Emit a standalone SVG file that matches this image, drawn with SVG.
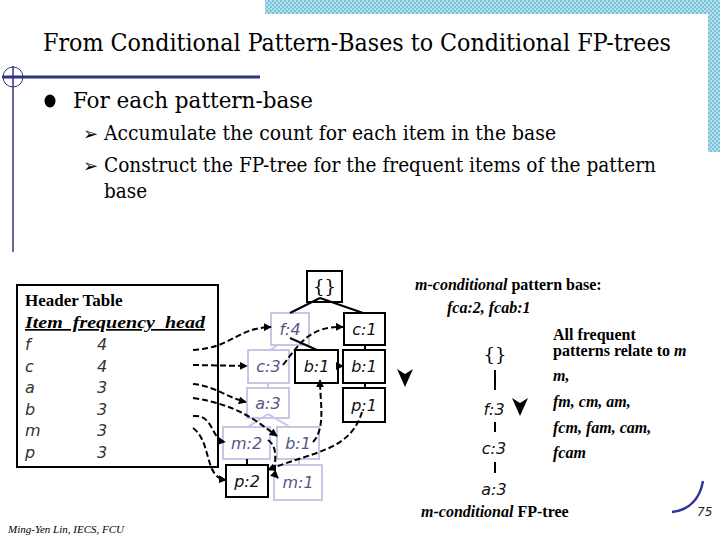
<svg xmlns="http://www.w3.org/2000/svg" width="720" height="540" viewBox="0 0 720 540">
<defs>
<pattern id="hatch" width="4" height="4" patternUnits="userSpaceOnUse">
<rect width="4" height="4" fill="#b4e0ee"/>
<rect width="2" height="2" fill="#7cc3da"/>
<rect x="2" y="2" width="2" height="2" fill="#7cc3da"/>
</pattern>
<marker id="ah" viewBox="0 0 10 10" refX="9" refY="5" markerWidth="8" markerHeight="8" markerUnits="userSpaceOnUse" orient="auto">
<path d="M0,0 L10,5 L0,10 z" fill="#000"/>
</marker>
</defs>
<style>
text.serif{font-family:"Liberation Serif",serif;fill:#000}
text.rs{font-family:"DejaVu Serif Condensed","DejaVu Serif",serif;fill:#000}
.bold{font-weight:bold}
.it{font-style:italic}
.item{font-family:"DejaVu Sans","Liberation Sans",sans-serif;font-style:italic;font-size:16px;fill:#333;font-weight:200}
.nb{fill:#fff;stroke:#000;stroke-width:2}
.ng{fill:#fff;stroke:#c6c6e6;stroke-width:2}
.tb{font-family:"DejaVu Sans","Liberation Sans",sans-serif;font-style:italic;font-size:16px;fill:#111;text-anchor:middle;font-weight:200}
.tg{font-family:"DejaVu Sans","Liberation Sans",sans-serif;font-style:italic;font-size:16px;fill:#55558a;text-anchor:middle;font-weight:200}
.br{font-family:"DejaVu Serif",serif;font-size:18px;fill:#000;text-anchor:middle}
.edge{stroke:#000;stroke-width:2;fill:none}
.edgeg{stroke:#c6c6e6;stroke-width:2;fill:none}
.dash{stroke:#000;stroke-width:2;fill:none;stroke-dasharray:6 3;marker-end:url(#ah)}
.navy{stroke:#333380;fill:none}
</style>
<rect width="720" height="540" fill="#fff"/>
<!-- background decoration -->
<rect x="265" y="0" width="455" height="14" fill="url(#hatch)"/>
<rect x="708" y="0" width="12" height="152" fill="url(#hatch)"/>
<line class="navy" x1="2" y1="77" x2="260" y2="77" stroke-width="3"/>
<circle class="navy" cx="13" cy="77" r="10" stroke-width="1"/>
<line class="navy" x1="13" y1="66" x2="13" y2="252" stroke-width="1.5"/>

<!-- title and bullets -->
<text class="rs" x="43" y="51" font-size="25" textLength="628" lengthAdjust="spacingAndGlyphs">From Conditional Pattern-Bases to Conditional FP-trees</text>
<ellipse cx="50" cy="101" rx="5.5" ry="6.5" fill="#000"/>
<text class="rs" x="73" y="108" font-size="23" textLength="240" lengthAdjust="spacingAndGlyphs">For each pattern-base</text>
<text x="83" y="140" font-size="18" font-family="DejaVu Sans, sans-serif">➢</text>
<text class="rs" x="104" y="140" font-size="20" textLength="452" lengthAdjust="spacingAndGlyphs">Accumulate the count for each item in the base</text>
<text x="83" y="172" font-size="18" font-family="DejaVu Sans, sans-serif">➢</text>
<text class="rs" x="104" y="172" font-size="20" textLength="552" lengthAdjust="spacingAndGlyphs">Construct the FP-tree for the frequent items of the pattern</text>
<text class="rs" x="104" y="198" font-size="20" textLength="43" lengthAdjust="spacingAndGlyphs">base</text>

<!-- header table -->
<g id="header-table">
<rect x="17" y="285" width="201" height="182" fill="#fff" stroke="#000" stroke-width="2"/>
<text class="serif bold" x="25" y="306" font-size="17">Header Table</text>
<text class="serif bold it" x="25" y="328" font-size="17" text-decoration="underline" textLength="180" lengthAdjust="spacingAndGlyphs" xml:space="preserve">Item  frequency  head</text>
<text class="item" x="25" y="350">f</text><text class="item" x="97" y="350">4</text>
<text class="item" x="25" y="371.5">c</text><text class="item" x="97" y="371.5">4</text>
<text class="item" x="25" y="393">a</text><text class="item" x="97" y="393">3</text>
<text class="item" x="25" y="414.5">b</text><text class="item" x="97" y="414.5">3</text>
<text class="item" x="25" y="436">m</text><text class="item" x="97" y="436">3</text>
<text class="item" x="25" y="457.5">p</text><text class="item" x="97" y="457.5">3</text>
</g>

<!-- FP-tree nodes -->
<g id="n-root"><rect class="nb" x="307" y="271" width="35" height="31"/><text class="br" x="324.5" y="293">{}</text></g>
<g id="n-f4"><rect class="ng" x="271" y="313" width="38" height="32"/><text class="tg" x="290" y="335">f:4</text></g>
<g id="n-c1"><rect class="nb" x="344" y="313" width="41" height="32"/><text class="tb" x="364.5" y="335">c:1</text></g>
<g id="n-c3"><rect class="ng" x="248" y="350" width="41" height="33"/><text class="tg" x="268.5" y="372">c:3</text></g>
<g id="n-b1a"><rect class="nb" x="295" y="350" width="43" height="33"/><text class="tb" x="316.5" y="372">b:1</text></g>
<g id="n-b1b"><rect class="nb" x="343" y="350" width="42" height="33"/><text class="tb" x="364" y="372">b:1</text></g>
<g id="n-a3"><rect class="ng" x="247" y="388" width="42" height="30"/><text class="tg" x="268" y="409">a:3</text></g>
<g id="n-p1"><rect class="nb" x="343" y="388" width="42" height="34"/><text class="tb" x="364" y="411">p:1</text></g>
<g id="n-m2"><rect class="ng" x="223" y="427" width="47" height="32"/><text class="tg" x="246.5" y="449">m:2</text></g>
<g id="n-b1c"><rect class="ng" x="277" y="427" width="42" height="32"/><text class="tg" x="298" y="449">b:1</text></g>
<g id="n-p2"><rect class="nb" x="226" y="465" width="42" height="32"/><text class="tb" x="247" y="487">p:2</text></g>
<g id="n-m1"><rect class="ng" x="274" y="465" width="48" height="35"/><text class="tg" x="298" y="488">m:1</text></g>

<!-- connectors -->
<g id="connectors">
<path class="edge" d="M320,298 L290,313 M320,298 L363,313"/>
<path class="edge" d="M290,338 L317,350"/>
<path class="edgeg" d="M278,345 L270,350"/>
<path class="edge" d="M365,345 L365,350 M365,383 L365,388"/>
<path class="edgeg" d="M268,383 L268,388"/>
<path class="edgeg" d="M268,414 L248,427 M268,414 L290,427"/>
<path class="edge" d="M247,459 L247,465"/>
<path class="edgeg" d="M299,459 L299,465"/>
<path d="M338,366 L343,366" stroke="#000" stroke-width="2" marker-end="url(#ah)"/>
<path class="dash" d="M193,350 C232,348 236,328 271,327"/>
<path class="dash" d="M193,365 L247,366"/>
<path class="dash" d="M193,384 C215,386 228,398 246,402"/>
<path class="dash" d="M193,398 C238,405 255,420 277,436"/>
<path class="dash" d="M193,416 C214,414 211,440 225,442"/>
<path class="dash" d="M193,428 C212,442 204,478 226,480"/>
<path class="dash" d="M268,440 C282,450 270,470 278,478"/>
<path class="dash" d="M313,442 C326,428 320,402 320,380"/>
<path class="dash" d="M362,412 C350,452 310,452 268,470"/>
<path class="dash" d="M283,365 C300,343 310,326 343,327"/>
</g>

<!-- right side -->
<text class="serif bold" x="415" y="290" font-size="16"><tspan font-style="italic">m-conditional</tspan> pattern base:</text>
<text class="serif bold it" x="447" y="313" font-size="16">fca:2, fcab:1</text>
<path d="M397,369 L405,374 L413,369 L405,387 Z" fill="#000"/>
<path d="M512,398 L520,403 L528,398 L520,416 Z" fill="#000"/>
<g id="cond-tree">
<text class="br" x="495" y="361">{}</text>
<line class="edge" x1="495" y1="370" x2="495" y2="390" stroke-width="3"/>
<text class="tb" x="494" y="415">f:3</text>
<line class="edge" x1="495" y1="422" x2="495" y2="432" stroke-width="3"/>
<text class="tb" x="494" y="454">c:3</text>
<line class="edge" x1="495" y1="462" x2="495" y2="473" stroke-width="3"/>
<text class="tb" x="494" y="495">a:3</text>
</g>
<text class="serif bold" x="421" y="517" font-size="16"><tspan font-style="italic">m-conditional</tspan> FP-tree</text>
<text class="serif bold" x="553" y="340" font-size="16">All frequent</text>
<text class="serif bold" x="553" y="356" font-size="16">patterns relate to <tspan font-style="italic">m</tspan></text>
<text class="serif bold it" x="553" y="381" font-size="16">m,</text>
<text class="serif bold it" x="553" y="407" font-size="16">fm, cm, am,</text>
<text class="serif bold it" x="553" y="433" font-size="16">fcm, fam, cam,</text>
<text class="serif bold it" x="553" y="458" font-size="16">fcam</text>

<!-- footer -->
<path d="M672,512 C690,510 700,498 703,481" stroke="#333399" stroke-width="2.5" fill="none"/>
<text x="697" y="516" font-size="12" font-family="DejaVu Sans, sans-serif" font-style="italic" font-weight="200" fill="#222">75</text>
<text class="serif it" x="8" y="533" font-size="11">Ming-Yen Lin, IECS, FCU</text>
</svg>
